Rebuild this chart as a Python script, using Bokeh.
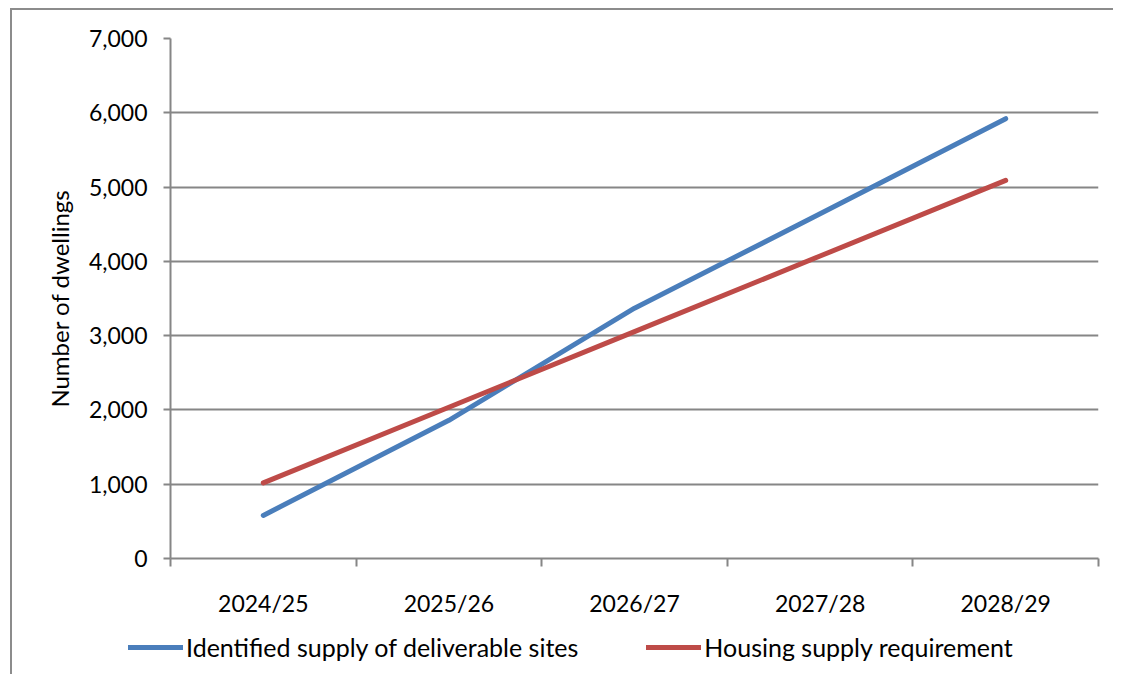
from bokeh.plotting import figure
from bokeh.layouts import column, row
from bokeh.models import Range1d, FixedTicker, NumeralTickFormatter, Legend, LegendItem, LinearAxis, Grid
from bokeh.embed import file_html
from bokeh.resources import INLINE

years = ["2024/25", "2025/26", "2026/27", "2027/28", "2028/29"]
supply = [580, 1860, 3370, 4640, 5920]
requirement = [1018, 2036, 3054, 4072, 5090]
y_ticks = [0, 1000, 2000, 3000, 4000, 5000, 6000, 7000]
series_names = ["Identified supply of deliverable sites", "Housing supply requirement"]

FONT = "Lato"
FS = "23px"
GRAY = "#868686"
BLUE = "#4a7ebb"
RED = "#be4b48"

xpos = [i + 0.5 for i in range(len(years))]

p = figure(width=1113, height=620, output_backend="svg", toolbar_location=None,
           x_range=Range1d(0, len(years)), y_range=Range1d(0, 7000),
           min_border_left=170, min_border_right=15, min_border_top=38, min_border_bottom=62,
           x_axis_type=None, y_axis_type=None)
p.border_fill_color = None
p.background_fill_color = "white"
p.outline_line_color = None

# y axis
yax = LinearAxis(ticker=FixedTicker(ticks=y_ticks), formatter=NumeralTickFormatter(format="0,0"))
yax.axis_line_color = GRAY
yax.axis_line_width = 2
yax.major_tick_line_color = GRAY
yax.major_tick_line_width = 2
yax.major_tick_out = 7
yax.major_tick_in = 0
yax.minor_tick_line_color = None
yax.major_label_text_font = FONT
yax.major_label_text_font_size = FS
yax.major_label_text_color = "black"
yax.major_label_standoff = 16
yax.axis_label = "Number of dwellings"
yax.axis_label_text_font = FONT
yax.axis_label_text_font_size = "24px"
yax.axis_label_text_font_style = "normal"
yax.axis_label_text_color = "black"
yax.axis_label_standoff = 12
p.add_layout(yax, "left")

# x axis: labels at centres, ticks at category boundaries
xax = LinearAxis(ticker=FixedTicker(ticks=xpos, minor_ticks=list(range(len(years) + 1))))
xax.major_label_overrides = {x: y for x, y in zip(xpos, years)}
xax.axis_line_color = GRAY
xax.axis_line_width = 2
xax.major_tick_line_color = None
xax.major_tick_out = 0
xax.major_tick_in = 0
xax.minor_tick_line_color = GRAY
xax.minor_tick_line_width = 2
xax.minor_tick_out = 8
xax.minor_tick_in = 0
xax.major_label_text_font = FONT
xax.major_label_text_font_size = FS
xax.major_label_text_color = "black"
xax.major_label_standoff = 22
p.add_layout(xax, "below")

g = Grid(dimension=1, ticker=FixedTicker(ticks=y_ticks))
g.grid_line_color = GRAY
g.grid_line_width = 2
p.add_layout(g)

p.line(xpos, supply, line_color=BLUE, line_width=5, line_cap="round", line_join="round")
p.line(xpos, requirement, line_color=RED, line_width=5, line_cap="round", line_join="round")

# legend strip below the chart (same series, drawn out of view so only the legend shows)
p2 = figure(width=1113, height=54, output_backend="svg", toolbar_location=None,
            x_range=Range1d(0, 1), y_range=Range1d(-2, -1),
            min_border_left=0, min_border_right=0, min_border_top=0, min_border_bottom=0,
            x_axis_type=None, y_axis_type=None)
p2.border_fill_color = None
p2.background_fill_color = None
p2.outline_line_color = None
p2.grid.visible = False
l1 = p2.line(xpos, supply, line_color=BLUE, line_width=5, line_cap="round")
l2 = p2.line(xpos, requirement, line_color=RED, line_width=5, line_cap="round")

legend = Legend(items=[LegendItem(label=series_names[0], renderers=[l1]),
                       LegendItem(label=series_names[1], renderers=[l2])],
                orientation="horizontal", location=(128, 12))
legend.padding = 0
legend.margin = 0
legend.spacing = 68
legend.glyph_width = 55
legend.glyph_height = 24
legend.label_height = 24
legend.label_standoff = 3
legend.label_text_font = FONT
legend.label_text_font_size = "25px"
legend.label_text_color = "black"
legend.background_fill_alpha = 0
legend.border_line_color = None
p2.add_layout(legend, "center")

layout = column(p, row(p2, spacing=0), spacing=0)
layout.styles = {"box-shadow": "inset 10px 8px 0 0 white, inset 12px 10px 0 0 #8c8c8c"}

open("out.html", "w").write(file_html(layout, INLINE))
